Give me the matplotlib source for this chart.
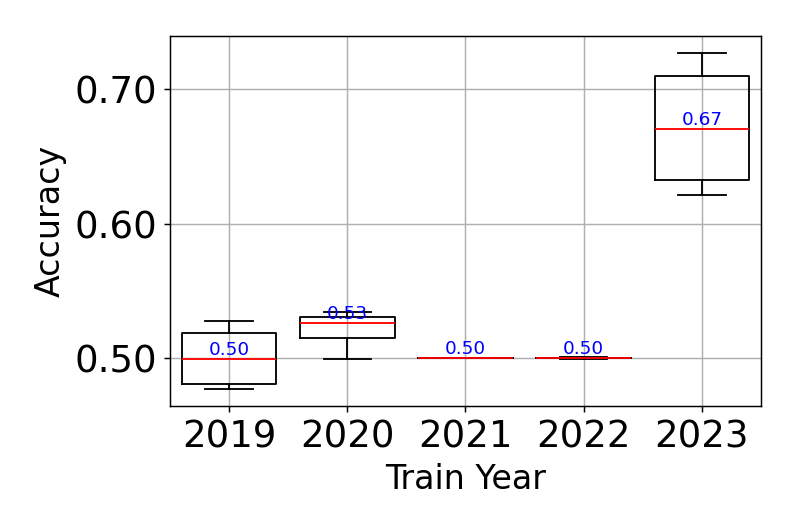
import matplotlib
matplotlib.use("Agg")
import matplotlib.pyplot as plt
from matplotlib.ticker import MultipleLocator, FormatStrFormatter

# Werte
years = ["2019", "2020", "2021", "2022", "2023"]
whis_lo = [0.4767, 0.4990, 0.5000, 0.4996, 0.6210]
q1 = [0.4810, 0.5149, 0.5000, 0.4998, 0.6323]
medians = [0.4995, 0.5260, 0.5000, 0.5000, 0.6703]
q3 = [0.5186, 0.5307, 0.5000, 0.5003, 0.7097]
whis_hi = [0.5275, 0.5344, 0.5000, 0.5005, 0.7270]

stats = []
for i, y in enumerate(years):
    stats.append({"label": y, "whislo": whis_lo[i], "q1": q1[i], "med": medians[i],
                  "q3": q3[i], "whishi": whis_hi[i], "fliers": []})

fig = plt.figure(figsize=(797 / 133, 4), dpi=133)
ax = fig.add_axes([0.2133, 0.2368, 0.7415, 0.6955])

ax.bxp(stats, positions=range(1, len(years) + 1), widths=0.8,
       medianprops=dict(color="red"))

# Median-Werte als Text
for i, m in enumerate(medians):
    ax.text(i + 1, m, f"{m:.2f}", color="blue", fontsize=10,
            ha="center", va="bottom")

ax.set_xlim(0.5, 5.5)
ax.set_ylim(0.4643, 0.7394)
ax.yaxis.set_major_locator(MultipleLocator(0.1))
ax.yaxis.set_major_formatter(FormatStrFormatter("%.2f"))
ax.tick_params(labelsize=20)
ax.set_xlabel("Train Year", fontsize=18)
ax.set_ylabel("Accuracy", fontsize=18)
ax.grid(True)

fig.savefig("out.png", dpi=133)
